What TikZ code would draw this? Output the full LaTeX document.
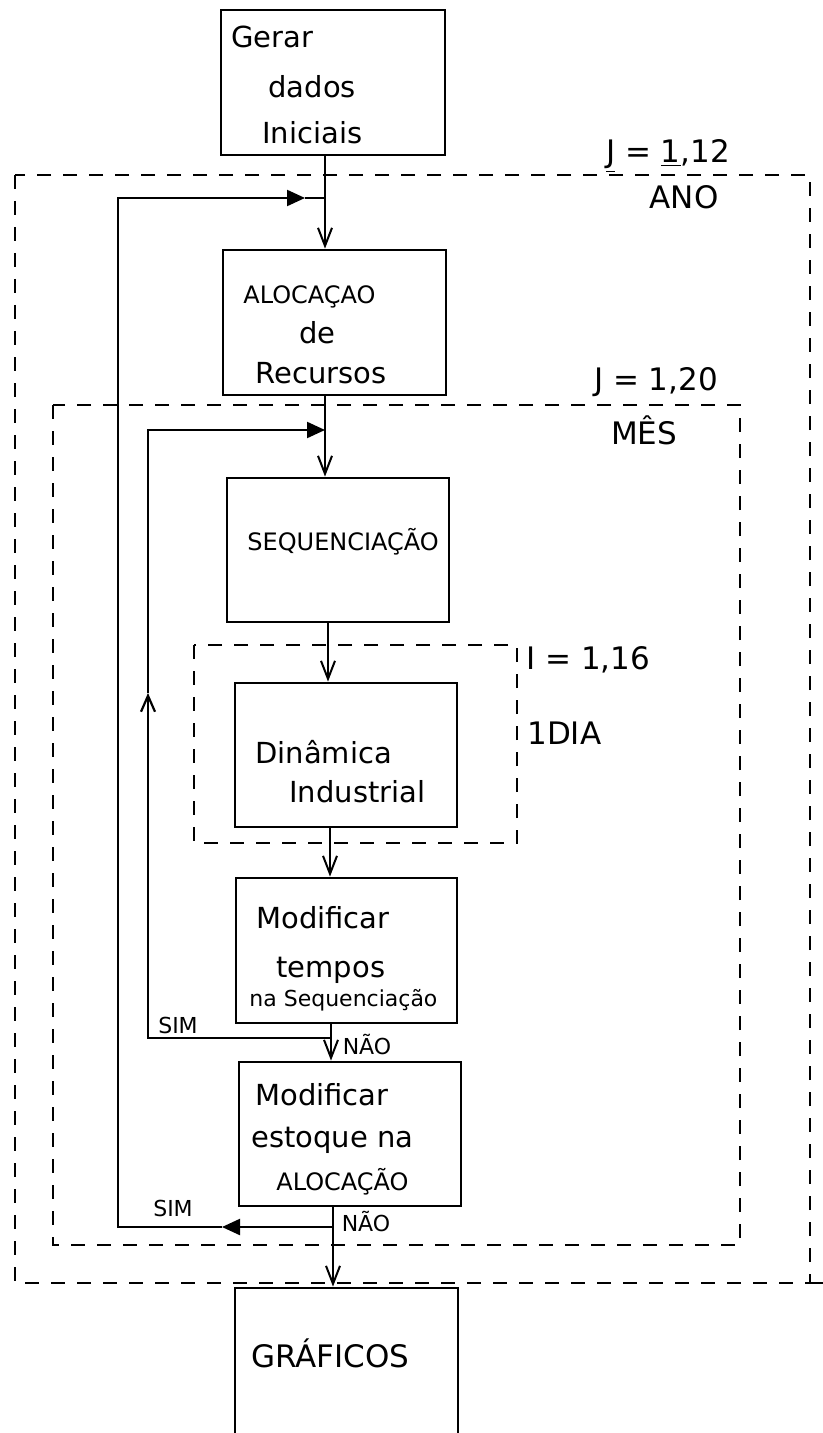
\documentclass[tikz,border=0pt]{standalone}
\usepackage{fontspec}
\setmainfont{DejaVu Sans}
\usetikzlibrary{arrows.meta}
\begin{document}
\begin{tikzpicture}[x=0.5pt,y=-0.5pt,
  box/.style={draw,line width=1.4pt,inner sep=0pt,anchor=center},
  txt/.style={anchor=west,inner sep=0pt,font=\fontsize{14.5}{16}\selectfont},
  captxt/.style={anchor=west,inner sep=0pt,font=\fontsize{12}{14}\selectfont},
  lbl/.style={inner sep=0pt,font=\fontsize{15.5}{17}\selectfont},
  sml/.style={inner sep=0pt,font=\fontsize{11}{13}\selectfont},
  flow/.style={line width=1pt,-{Straight Barb[length=9pt,width=7pt]}},
  lp/.style={line width=1.1pt},
  tri/.style={-{Triangle[length=9pt,width=8pt]}},
  dsh/.style={line width=1pt,dash pattern=on 7pt off 6pt}]
\clip (0,0) rectangle (823,1433);
\useasboundingbox (0,0) rectangle (823,1433);

% dashed loop frames
\draw[dsh] (15,175) rectangle (810,1283);
\draw[dsh] (810,1283) -- (823,1283);
\draw[dsh] (53,405) rectangle (740,1245);
\draw[dsh] (194,645) rectangle (517,843);

% boxes
\node[box,minimum width=112pt,minimum height=72.5pt] (b1) at (333,82.5) {};
\node[box,minimum width=111.5pt,minimum height=72.5pt] (b2) at (334.5,322.5) {};
\node[box,minimum width=111pt,minimum height=72pt] (b3) at (338,550) {};
\node[box,minimum width=111pt,minimum height=72pt] (b4) at (346,755) {};
\node[box,minimum width=110.5pt,minimum height=72.5pt] (b5) at (346.5,950.5) {};
\node[box,minimum width=111pt,minimum height=72pt] (b6) at (350,1134) {};
\node[box,minimum width=111.5pt,minimum height=81pt] (b7) at (346.5,1369) {};

% box texts
\node[txt] (t1a) at (231,37) {Gerar};
\node[txt] (t1b) at (268,87) {dados};
\node[txt] (t1c) at (262,133) {Iniciais};
\node[captxt] (t2a) at (243,297) {ALOCAÇAO};
\node[txt] (t2b) at (299,333) {de};
\node[txt] (t2c) at (255,373) {Recursos};
\node[captxt] (t3a) at (247,542) {SEQUENCIAÇÃO};
\node[txt] (t4a) at (255,752) {Dinâmica};
\node[txt] (t4b) at (289,792) {Industrial};
\node[txt] (t5a) at (256,918) {Modificar};
\node[txt] (t5b) at (276,970) {tempos};
\node[sml,anchor=west] (t5c) at (249,1000) {na Sequenciação};
\node[txt] (t6a) at (255,1095) {Modificar};
\node[txt] (t6b) at (251,1140) {estoque na};
\node[captxt] (t6c) at (276,1182) {ALOCAÇÃO};
\node[lbl,anchor=west] (t7a) at (251,1353) {GRÁFICOS};

% loop labels
\node[lbl] (l1) at (668,156) {\underline{J} = \underline{1},12};
\node[lbl] (l2) at (684,197) {ANO};
\node[lbl] (l3) at (656,382) {J = 1,20};
\node[lbl] (l4) at (644,430) {MÊS};
\node[lbl,anchor=west] (l5) at (526,660) {I = 1,16};
\node[lbl,anchor=west] (l6) at (527,733) {1DIA};
\node[sml] (l7) at (178,1025) {SIM};
\node[sml] (l8) at (367,1045) {NÃO};
\node[sml] (l9) at (173,1208) {SIM};
\node[sml] (l10) at (366,1222) {NÃO};

% spine x positions
\coordinate (s1) at (325,0);
\coordinate (s2) at (325,0);
\coordinate (s3) at (328,0);
\coordinate (s4) at (330,0);
\coordinate (s5) at (331,0);
\coordinate (s6) at (333,0);

% main flow
\draw[flow] (b1.south -| s1) -- (b2.north -| s1);
\draw[flow] (b2.south -| s2) -- (b3.north -| s2);
\draw[flow] (b3.south -| s3) -- (b4.north -| s3);
\draw[flow] (b4.south -| s4) -- (b5.north -| s4);
\draw[flow] (b5.south -| s5) -- (b6.north -| s5);
\draw[flow] (b6.south -| s6) -- (b7.north -| s6);

% outer loop (ANO)
\coordinate (jA) at (325,198);
\coordinate (mA) at (305,198);
\coordinate (oA) at (118,198);
\coordinate (oB) at (118,1227);
\coordinate (mB) at (222,1227);
\coordinate (jB) at (333,1227);
\draw[lp,tri] (jB) -- (mB);
\draw[lp,tri] (mB) -- (oB) -- (oA) -- (mA);
\draw[lp] (mA) -- (jA);

% inner loop (MES)
\coordinate (jD) at (331,1038);
\coordinate (iD) at (148,1038);
\coordinate (iU) at (148,693);
\coordinate (iC) at (148,430);
\coordinate (jC) at (325,430);
\draw[lp,-{Straight Barb[length=8pt,width=7pt]}] (jD) -- (iD) -- (iU);
\draw[lp,tri] (iU) -- (iC) -- (jC);
\end{tikzpicture}
\end{document}
